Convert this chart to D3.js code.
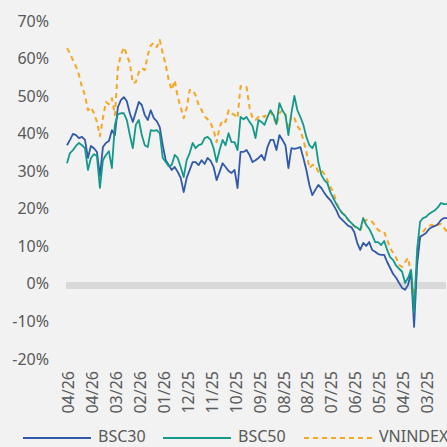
<!DOCTYPE html>
<html lang="en">
<head>
  <meta charset="UTF-8">
  <title>BSC30 / BSC50 / VNINDEX</title>
  <style>
    body {
      margin: 0;
      background: #f2f2f2;
    }

    text {
      font-family: "Noto Sans", sans-serif;
      font-size: 16px;
      fill: #595959;
    }
  </style>
</head>
<body>

<svg width="447" height="447"></svg>

<script src="https://cdn.jsdelivr.net/npm/d3@7/dist/d3.min.js"></script>

<script>
  // tick labels shown on the category axis (one every 8 points)
  const tickLabels = ['04/26', '04/26', '03/26', '02/26', '01/26', '12/25', '11/25', '10/25',
    '09/25', '08/25', '08/25', '07/25', '06/25', '05/25', '04/25', '03/25'];
  const labelEvery = 8;

  const yTicks = [-20, -10, 0, 10, 20, 30, 40, 50, 60, 70];

  const seriesNames = ['BSC30', 'BSC50', 'VNINDEX'];

  const bsc30 = [
    37.2, 38.6, 40.2, 39.9, 39.1, 39.4, 38.6, 33.8, 37.0, 36.4,
    35.4, 29.0, 36.7, 37.8, 38.3, 41.2, 39.9, 47.3, 49.2, 50.0,
    48.9, 45.7, 43.4, 46.0, 48.7, 47.9, 45.2, 43.9, 46.5, 44.4,
    43.6, 42.0, 37.2, 33.2, 31.9, 30.6, 31.4, 30.1, 28.5, 24.7,
    28.5, 30.6, 32.7, 32.7, 31.9, 33.2, 32.2, 33.8, 33.0, 31.4,
    27.9, 30.1, 32.4, 31.4, 30.3, 29.8, 30.6, 25.8, 35.4, 35.4,
    35.9, 34.6, 32.7, 33.2, 33.8, 34.6, 33.2, 36.7, 38.6, 38.6,
    35.9, 39.9, 38.6, 37.2, 31.1, 36.4, 36.2, 36.4, 36.7, 33.8,
    30.6, 26.6, 23.9, 25.3, 26.6, 25.8, 24.5, 23.4, 22.6, 21.3,
    19.9, 18.1, 17.3, 16.5, 15.7, 15.4, 14.1, 11.2, 9.3, 11.2,
    10.4, 11.4, 9.3, 8.8, 8.2, 8.0, 8.0, 6.1, 4.5, 2.9,
    1.9, 0.5, -0.8, -1.3, 0.0, 3.5, -11.2, 5.3, 12.8, 13.3,
    13.8, 14.9, 15.4, 15.7, 16.2, 17.3, 17.8, 17.8
  ];

  const bsc50 = [
    32.4, 35.1, 35.9, 37.0, 37.8, 37.2, 36.4, 30.6, 33.8, 34.8,
    34.3, 25.8, 33.2, 34.6, 35.6, 31.1, 42.6, 45.5, 45.7, 45.7,
    43.9, 39.9, 36.4, 42.6, 43.9, 39.9, 37.2, 36.7, 41.2, 41.0,
    41.2, 40.4, 33.8, 32.7, 31.6, 31.9, 34.6, 33.8, 31.4, 28.7,
    33.2, 35.1, 37.8, 36.4, 37.2, 37.5, 39.1, 39.4, 38.6, 36.4,
    32.7, 35.9, 38.6, 37.2, 40.4, 38.0, 38.0, 35.9, 44.7, 44.1,
    44.7, 43.4, 42.3, 39.1, 43.9, 43.4, 42.6, 44.7, 46.5, 45.2,
    42.8, 48.4, 46.5, 45.2, 39.9, 45.7, 50.3, 46.5, 44.7, 42.6,
    39.4, 37.2, 36.4, 38.0, 32.7, 29.3, 27.9, 27.1, 24.7, 23.1,
    21.5, 20.2, 19.1, 18.4, 17.3, 16.5, 15.7, 15.2, 14.6, 17.8,
    16.0, 14.9, 13.3, 11.4, 11.4, 10.6, 11.7, 9.3, 7.4, 6.6,
    5.1, 4.3, 3.5, 0.5, 1.9, 4.0, -7.4, 9.3, 16.8, 17.8,
    18.1, 18.9, 19.4, 19.9, 20.7, 21.8, 21.5, 21.5
  ];

  const vnindex = [
    63.0, 61.7, 59.8, 58.2, 55.9, 52.7, 50.5, 46.5, 47.3, 45.7,
    43.4, 39.6, 44.4, 48.7, 48.1, 49.7, 45.2, 57.7, 61.2, 63.3,
    61.2, 59.0, 53.7, 54.0, 56.6, 57.7, 57.2, 61.2, 63.8, 64.4,
    63.3, 65.2, 61.7, 58.5, 54.5, 51.9, 54.5, 50.0, 47.3, 44.4,
    47.1, 51.9, 51.9, 50.5, 47.9, 46.5, 44.9, 44.1, 43.1, 41.2,
    38.0, 42.0, 43.9, 43.4, 46.5, 45.7, 45.2, 44.4, 52.9, 52.9,
    52.7, 47.3, 44.4, 43.9, 44.7, 45.2, 44.7, 45.7, 46.0, 44.7,
    42.6, 45.7, 46.5, 45.5, 41.2, 45.2, 44.4, 42.3, 41.2, 38.6,
    35.4, 31.1, 31.9, 31.9, 30.1, 30.6, 29.5, 27.9, 26.1, 24.7,
    22.1, 20.2, 19.1, 18.6, 17.3, 16.2, 15.7, 14.9, 14.6, 16.2,
    17.3, 17.3, 16.8, 15.7, 14.6, 14.1, 14.1, 12.0, 9.8, 8.5,
    7.2, 5.3, 4.8, 6.1, 7.2, 2.7, -4.0, 5.3, 12.5, 14.1,
    15.2, 15.7, 16.0, 15.4, 16.0, 16.2, 15.2, 14.1
  ];

  const svg = d3.select("svg");

  svg.append("rect")
    .attr("width", 447)
    .attr("height", 447)
    .attr("fill", "#f2f2f2");

  const n = bsc30.length;

  const x = d3.scalePoint()
    .domain(d3.range(n))
    .range([67, 447]);

  const y = d3.scaleLinear()
    .domain([-20, 70])
    .range([360, 22]);

  // y tick labels
  svg.append("g")
    .selectAll("text")
    .data(yTicks)
    .enter()
    .append("text")
    .attr("x", 49)
    .attr("y", function (d) {
      return y(d) - 1;
    })
    .attr("dy", "0.35em")
    .attr("text-anchor", "end")
    .text(function (d) {
      return d + "%";
    });

  // zero line
  svg.append("line")
    .attr("x1", 66)
    .attr("x2", 446)
    .attr("y1", y(0) + 0.5)
    .attr("y2", y(0) + 0.5)
    .attr("stroke", "#d9d9d9")
    .attr("stroke-width", 7);

  // category labels, rotated
  svg.append("g")
    .selectAll("text")
    .data(tickLabels)
    .enter()
    .append("text")
    .attr("transform", function (d, i) {
      return "translate(" + (x(i * labelEvery) + 1.5) + ",371) rotate(-90)";
    })
    .attr("dy", "0.35em")
    .attr("text-anchor", "end")
    .text(function (d) {
      return d;
    });

  const series = [
    {name: seriesNames[0], values: bsc30, color: '#3159a9', dash: null},
    {name: seriesNames[1], values: bsc50, color: '#12998a', dash: null},
    {name: seriesNames[2], values: vnindex, color: '#f5a623', dash: '5,4'}
  ];

  const line = d3.line()
    .x(function (d, i) {
      return x(i);
    })
    .y(function (d) {
      return y(d);
    });

  // draw VNINDEX first, then BSC30, BSC50 on top
  [series[2], series[0], series[1]].forEach(function (s) {
    svg.append("path")
      .datum(s.values)
      .attr("d", line)
      .attr("fill", "none")
      .attr("stroke", s.color)
      .attr("stroke-width", s.dash ? 2 : 1.8)
      .attr("stroke-linejoin", "round")
      .attr("stroke-dasharray", s.dash);
  });

  // legend
  const legendX = [23, 163, 304];
  const legend = svg.append("g")
    .selectAll("g")
    .data(series)
    .enter()
    .append("g")
    .attr("transform", function (d, i) {
      return "translate(" + legendX[i] + ",437)";
    });

  legend.append("line")
    .attr("x1", 0)
    .attr("x2", 68)
    .attr("y1", 1)
    .attr("y2", 1)
    .attr("stroke", function (d) {
      return d.color;
    })
    .attr("stroke-width", 2)
    .attr("stroke-dasharray", function (d) {
      return d.dash;
    });

  legend.append("text")
    .attr("x", 75)
    .attr("dy", "0.3em")
    .text(function (d) {
      return d.name;
    });
</script>
</body>
</html>
